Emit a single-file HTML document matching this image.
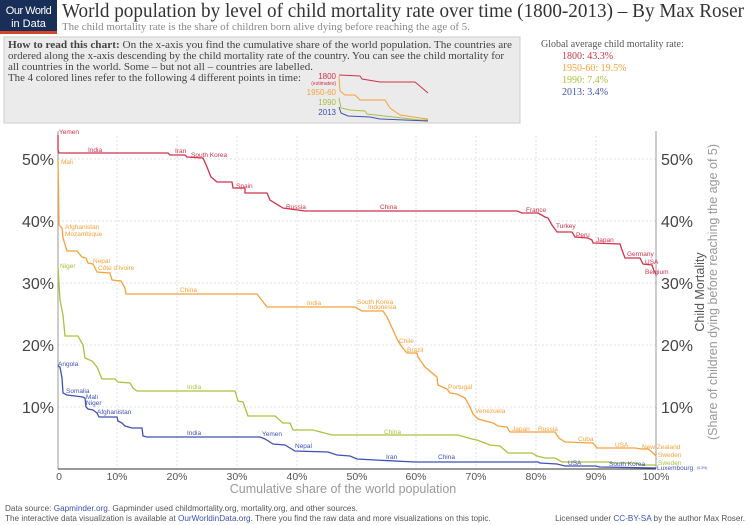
<!DOCTYPE html>
<html><head><meta charset="utf-8"><style>
body{margin:0;background:#fff;width:750px;height:525px;overflow:hidden}
svg{display:block}
.serif{font-family:"Liberation Serif",serif}
.sans{font-family:"Liberation Sans",sans-serif}
</style></head><body>
<svg width="750" height="525" xmlns="http://www.w3.org/2000/svg">
<rect x="0" y="0" width="57" height="33" fill="#1a2f57"/>
<rect x="0" y="31" width="57" height="3" fill="#d4452b"/>
<text x="28.5" y="14" font-size="11" fill="#fff" text-anchor="middle" class="sans" letter-spacing="-0.5">Our World</text>
<text x="28.5" y="27" font-size="11" fill="#fff" text-anchor="middle" class="sans">in Data</text>
<text x="62" y="17" font-size="19.5" fill="#333" class="serif" textLength="682" lengthAdjust="spacingAndGlyphs">World population by level of child mortality rate over time (1800-2013) – By Max Roser</text>
<text x="62" y="30" font-size="10.5" fill="#888" class="serif" textLength="408" lengthAdjust="spacingAndGlyphs">The child mortality rate is the share of children born alive dying before reaching the age of 5.</text>
<rect x="4" y="37" width="516" height="86" fill="#ebebeb" stroke="#ccc"/>
<g class="serif" font-size="10.5" fill="#444">
<text x="8" y="48" textLength="504" lengthAdjust="spacingAndGlyphs"><tspan font-weight="bold">How to read this chart:</tspan> On the x-axis you find the cumulative share of the world population. The countries are</text>
<text x="8" y="59" textLength="496" lengthAdjust="spacingAndGlyphs">ordered along the x-axis descending by the child mortality rate of the country. You can see the child mortality for</text>
<text x="8" y="70" textLength="305" lengthAdjust="spacingAndGlyphs">all countries in the world. Some – but not all – countries are labelled.</text>
<text x="8" y="81" textLength="293" lengthAdjust="spacingAndGlyphs">The 4 colored lines refer to the following 4 different points in time:</text>
</g>
<g class="sans" text-anchor="end">
<text x="336" y="79" font-size="8" fill="#d0334b">1800</text>
<text x="336" y="85" font-size="5" fill="#d0334b">(estimates)</text>
<text x="336" y="95" font-size="8" fill="#f7a13b">1950-60</text>
<text x="336" y="105" font-size="8" fill="#a9c23f">1990</text>
<text x="336" y="115" font-size="8" fill="#3f51b5">2013</text>
</g>
<g fill="none" stroke-width="1">
<polyline stroke="#d0334b" points="339,75 360,76 362,79 380,82 415,82 428,93"/>
<polyline stroke="#f7a13b" points="339,76 340,91 345,95 355,95 360,100 385,100 390,108 400,115 420,118 428,119"/>
<polyline stroke="#a9c23f" points="339,98 341,108 350,110 365,111 367,114 420,120 428,120"/>
<polyline stroke="#3f51b5" points="339,107 341,113 348,116 370,117 380,119 428,121"/>
</g>
<g class="serif" font-size="10">
<text x="541" y="47" fill="#555">Global average child mortality rate:</text>
<text x="562" y="59" fill="#d0334b">1800: 43.3%</text>
<text x="562" y="71" fill="#f7a13b">1950-60: 19.5%</text>
<text x="562" y="83" fill="#a9c23f">1990: 7.4%</text>
<text x="562" y="95" fill="#3f51b5">2013: 3.4%</text>
</g>
<g stroke="#d8d8d8" stroke-dasharray="2,2" stroke-width="0.8">
<line x1="58" y1="159" x2="656" y2="159"/><line x1="58" y1="221" x2="656" y2="221"/>
<line x1="58" y1="283" x2="656" y2="283"/><line x1="58" y1="345" x2="656" y2="345"/>
<line x1="58" y1="407" x2="656" y2="407"/>
<line x1="117" y1="136" x2="117" y2="469"/><line x1="177" y1="136" x2="177" y2="469"/>
<line x1="237" y1="136" x2="237" y2="469"/><line x1="297" y1="136" x2="297" y2="469"/>
<line x1="357" y1="136" x2="357" y2="469"/><line x1="416" y1="136" x2="416" y2="469"/>
<line x1="476" y1="136" x2="476" y2="469"/><line x1="536" y1="136" x2="536" y2="469"/>
<line x1="596" y1="136" x2="596" y2="469"/>
</g>
<line x1="58" y1="131" x2="58" y2="469" stroke="#999"/>
<line x1="656" y1="131" x2="656" y2="469" stroke="#999"/>
<line x1="58" y1="469" x2="656" y2="469" stroke="#333"/>
<g class="sans" font-size="16" fill="#444">
<g text-anchor="end"><text x="54" y="165">50%</text><text x="54" y="227">40%</text><text x="54" y="289">30%</text><text x="54" y="351">20%</text><text x="54" y="413">10%</text></g>
<text x="661" y="165">50%</text><text x="661" y="227">40%</text><text x="661" y="289">30%</text><text x="661" y="351">20%</text><text x="661" y="413">10%</text>
</g>
<g class="sans" text-anchor="middle">
<text transform="translate(704,292) rotate(-90)" font-size="12.5" fill="#555">Child Mortality</text>
<text transform="translate(717,292) rotate(-90)" font-size="12.5" fill="#999">(Share of children dying before reaching the age of 5)</text>
</g>
<g class="sans" font-size="10.5" fill="#555" text-anchor="middle">
<text x="59" y="480">0</text><text x="117" y="480">10%</text><text x="177" y="480">20%</text><text x="237" y="480">30%</text><text x="297" y="480">40%</text><text x="357" y="480">50%</text><text x="416" y="480">60%</text><text x="476" y="480">70%</text><text x="536" y="480">80%</text><text x="596" y="480">90%</text><text x="656" y="480">100%</text>
</g>
<text x="343" y="493" class="sans" font-size="12.5" fill="#999" text-anchor="middle">Cumulative share of the world population</text>
<g fill="none" stroke-width="1.3">
<polyline stroke="#d0334b" points="58,135 58,150 59,153 168,153 170,155 185,155 187,157 203,158 207,167 211,177 217,182 232,182 233,188 245,188 245,193 267,193 270,200 283,208 305,211 517,211 522,213 538,213 545,217 548,218 552,225 557,232 572,232 575,237 588,238 592,240 593,243 620,244 622,250 625,258 640,258 643,264 652,265 654,271 656,274"/>
<polyline stroke="#f7a13b" points="58,160 59,225 62,228 63,238 67,251 77,251 82,257 86,258 88,263 93,264 97,272 110,273 112,280 121,281 125,288 126,294 257,294 267,307 355,307 362,311 383,311 387,317 393,330 398,341 402,347 407,353 417,353 418,357 425,367 437,377 438,385 447,389 450,393 457,394 465,398 470,407 473,414 478,419 493,423 498,426 507,427 510,432 555,432 559,438 565,442 593,443 597,448 635,448 642,449 648,449 652,452 656,456"/>
<polyline stroke="#a9c23f" points="58,267 60,300 63,315 65,336 78,336 83,345 85,358 92,361 97,367 102,379 115,379 118,382 130,383 133,388 137,391 235,391 238,401 243,402 248,416 275,416 283,423 290,423 293,430 313,430 332,435 458,435 472,439 477,440 490,445 500,446 508,453 532,453 537,456 545,458 555,458 562,462 608,462 615,463 635,463 642,465 656,465"/>
<polyline stroke="#3f51b5" points="58,366 60,367 62,378 63,393 67,395 83,397 85,398 86,407 88,409 93,410 97,413 99,417 117,417 118,421 122,423 125,426 132,428 142,428 143,436 147,437 260,437 265,439 273,444 285,445 290,448 295,451 328,452 337,455 350,456 357,459 375,460 415,462 538,462 540,463 557,464 565,466 595,466 600,467 656,468"/>
</g>
<g class="sans" font-size="6.5">
<g fill="#d0334b"><text x="59" y="134">Yemen</text><text x="88" y="152">India</text><text x="175" y="153">Iran</text><text x="191" y="157">South Korea</text><text x="236" y="188">Spain</text><text x="286" y="209">Russia</text><text x="380" y="209">China</text><text x="526" y="212">France</text><text x="556" y="228">Turkey</text><text x="576" y="237">Peru</text><text x="596" y="242">Japan</text><text x="627" y="256">Germany</text><text x="645" y="264">USA</text><text x="645" y="274">Belgium</text></g>
<g fill="#f7a13b"><text x="61" y="164">Mali</text><text x="65" y="229">Afghanistan</text><text x="65" y="236">Mozambique</text><text x="93" y="263">Nepal</text><text x="98" y="270">Côte d'Ivoire</text><text x="180" y="292">China</text><text x="307" y="305">India</text><text x="357" y="304">South Korea</text><text x="368" y="309">Indonesia</text><text x="399" y="343">Chile</text><text x="407" y="352">Brazil</text><text x="448" y="389">Portugal</text><text x="475" y="413">Venezuela</text><text x="512" y="431">Japan</text><text x="538" y="431">Russia</text><text x="578" y="441">Cuba</text><text x="615" y="447">USA</text><text x="642" y="449">New Zealand</text><text x="658" y="457">Sweden</text></g>
<g fill="#a9c23f"><text x="60" y="268">Niger</text><text x="187" y="389">India</text><text x="384" y="434">China</text><text x="658" y="465">Sweden</text></g>
<g fill="#3f51b5"><text x="58" y="366">Angola</text><text x="66" y="393">Somalia</text><text x="86" y="399">Mali</text><text x="86" y="405">Niger</text><text x="97" y="414">Afghanistan</text><text x="187" y="435">India</text><text x="262" y="436">Yemen</text><text x="295" y="448">Nepal</text><text x="386" y="459">Iran</text><text x="438" y="459">China</text><text x="568" y="465">USA</text><text x="609" y="466">South Korea</text><text x="657" y="470">Luxembourg</text><text x="697" y="469" font-size="3.5">(0.3%)</text></g>
</g>
<g class="sans" font-size="8.2" fill="#555">
<text x="5" y="511">Data source: <tspan fill="#3f51b5">Gapminder.org</tspan>. Gapminder used childmortality.org, mortality.org, and other sources.</text>
<text x="5" y="521">The interactive data visualization is available at <tspan fill="#3f51b5">OurWorldinData.org</tspan>. There you find the raw data and more visualizations on this topic.</text>
<text x="745" y="521" text-anchor="end">Licensed under <tspan fill="#3f51b5">CC-BY-SA</tspan> by the author Max Roser.</text>
</g>
</svg>
</body></html>
